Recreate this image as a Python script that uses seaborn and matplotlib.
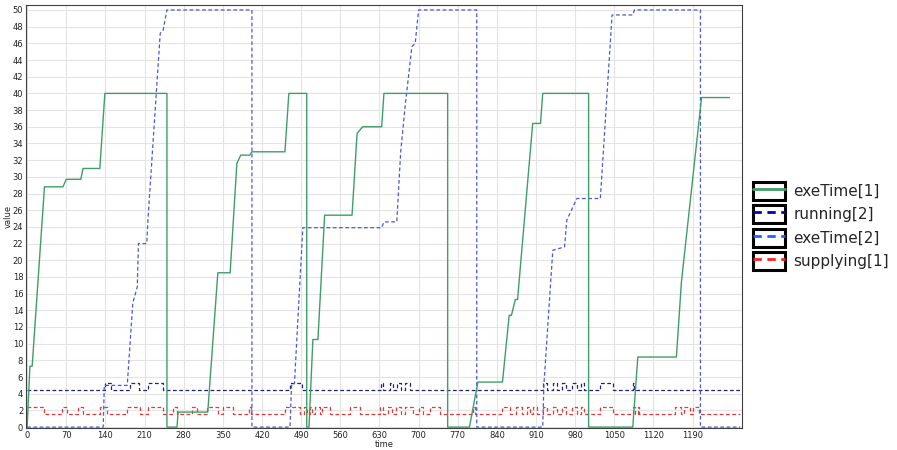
import matplotlib
matplotlib.use("Agg")
import matplotlib.pyplot as plt
from matplotlib.lines import Line2D
from matplotlib.patches import Patch
from matplotlib.legend_handler import HandlerTuple
import seaborn as sns

# exeTime[1] - green solid, piecewise linear
exe1_t = [0, 5, 9, 31, 64, 70, 96, 100, 130, 139, 250, 250, 268, 270, 323, 341, 363, 375, 382, 398,
          402, 461, 468, 500, 500, 504, 511, 520, 532, 581, 590, 600, 634, 638, 752, 752, 791, 806,
          850, 862, 866, 873, 877, 904, 918, 922, 1004, 1004, 1083, 1092, 1161, 1170, 1206, 1256]
exe1_v = [0, 7.3, 7.3, 28.8, 28.8, 29.7, 29.7, 31, 31, 40, 40, 0, 0, 1.8, 1.8, 18.5, 18.5, 31.6, 32.6, 32.6,
          33, 33, 40, 40, 0, 0, 10.5, 10.5, 25.4, 25.4, 35.2, 36, 36, 40, 40, 0, 0, 5.4,
          5.4, 13.4, 13.4, 15.3, 15.3, 36.4, 36.4, 40, 40, 0, 0, 8.4, 8.4, 17.4, 39.5, 39.5]

# exeTime[2] - blue dashed, piecewise linear
exe2_t = [0, 136, 138, 179, 189, 197, 199, 214, 216, 238, 243, 250, 402, 402, 470, 473, 478, 493,
          634, 638, 661, 668, 676, 688, 694, 700, 804, 804, 922, 924, 940, 961, 965, 983, 1025,
          1046, 1083, 1086, 1204, 1204, 1275]
exe2_v = [0, 0, 5, 5, 14.9, 16.8, 22, 22, 24.8, 47.2, 47.5, 50, 50, 0, 0, 5.2, 5.2, 23.9,
          23.9, 24.6, 24.6, 33, 38.5, 45.6, 46, 50, 50, 0, 0, 5, 21.2, 21.6, 24.8, 27.4, 27.4,
          49.4, 49.4, 50, 50, 0, 0]

# running[2] - step signal
run2_t = [0, 140, 150, 184, 200, 216, 243, 470, 492, 632, 636, 648, 655, 662, 668, 676, 684,
          922, 930, 940, 947, 957, 964, 975, 984, 990, 996, 1025, 1047, 1083, 1086, 1275]
run2_v = [4.4, 5.3, 4.4, 5.3, 4.4, 5.3, 4.4, 5.3, 4.4, 5.3, 4.4, 5.3, 4.4, 5.3, 4.4, 5.3, 4.4,
          5.3, 4.4, 5.3, 4.4, 5.3, 4.4, 5.3, 4.4, 5.3, 4.4, 5.3, 4.4, 5.3, 4.4, 4.4]

# supplying[1] - step signal
sup1_t = [0, 30, 62, 71, 91, 100, 130, 143, 179, 202, 216, 243, 261, 268, 295, 304, 321, 341,
          350, 368, 396, 400, 461, 488, 495, 500, 505, 510, 515, 523, 527, 541, 577, 595,
          631, 636, 645, 652, 660, 668, 675, 690, 700, 708, 720, 738, 797, 800, 850, 863,
          875, 885, 893, 900, 905, 911, 922, 930, 940, 947, 957, 964, 975, 984, 990, 996,
          1025, 1047, 1083, 1087, 1092, 1095, 1158, 1170, 1175, 1185, 1190, 1202, 1275]
sup1_v = [2.4, 1.55, 2.4, 1.55, 2.4, 1.55, 2.4, 1.55, 2.4, 1.55, 2.4, 1.55, 2.4, 1.55, 2.4, 1.55, 2.4, 1.55,
          2.4, 1.55, 2.4, 1.55, 2.4, 1.55, 2.4, 1.55, 2.4, 1.55, 2.4, 1.55, 2.4, 1.55, 2.4, 1.55,
          2.4, 1.55, 2.4, 1.55, 2.4, 1.55, 2.4, 1.55, 2.4, 1.55, 2.4, 1.55, 2.4, 1.55, 2.4, 1.55,
          2.4, 1.55, 2.4, 1.55, 2.4, 1.55, 2.4, 1.55, 2.4, 1.55, 2.4, 1.55, 2.4, 1.55, 2.4, 1.55,
          2.4, 1.55, 2.4, 1.55, 2.4, 1.55, 2.4, 1.55, 2.4, 1.55, 2.4, 1.55, 1.55]

labels = ["exeTime[1]", "running[2]", "exeTime[2]", "supplying[1]"]
x_ticks = list(range(0, 1191, 70))
y_ticks = list(range(0, 51, 2))

sns.set_style("whitegrid", {"grid.color": "#e4e4e4", "axes.edgecolor": "#404040"})
plt.rcParams["font.family"] = ["DejaVu Sans"]

green = "#3f9e68"
navy = "#22227a"
blue = "#4a5ad4"
red = "#e03a3a"

fig = plt.figure(figsize=(8.97, 4.5), dpi=100)
ax = fig.add_axes([0.029, 0.049, 0.798, 0.94])

sns.lineplot(x=sup1_t, y=sup1_v, ax=ax, estimator=None, sort=False, drawstyle="steps-post",
             color=red, lw=0.9, linestyle=(0, (3, 2)))
sns.lineplot(x=run2_t, y=run2_v, ax=ax, estimator=None, sort=False, drawstyle="steps-post",
             color=navy, lw=0.9, linestyle=(0, (3, 2)))
sns.lineplot(x=exe2_t, y=exe2_v, ax=ax, estimator=None, sort=False,
             color=blue, lw=0.9, linestyle=(0, (3, 2)))
sns.lineplot(x=exe1_t, y=exe1_v, ax=ax, estimator=None, sort=False, color=green, lw=1.0)

ax.set_xlim(-2, 1278)
ax.set_ylim(-0.1, 50.6)
ax.set_xticks(x_ticks)
ax.set_yticks(y_ticks)
ax.tick_params(labelsize=6, length=0, pad=2, colors="#222222")
ax.set_xlabel("time", fontsize=6, labelpad=0)
ax.set_ylabel("value", fontsize=6, labelpad=0)
for s in ax.spines.values():
    s.set_linewidth(0.8)

handles = []
for c, ls in [(green, "-"), ("#0000b0", (0, (3, 2))), ("#2060ff", (0, (3, 2))), ("#ff2020", (0, (3, 2)))]:
    box = Patch(facecolor="white", edgecolor="black", lw=2.2)
    ln = Line2D([], [], color=c, lw=2, linestyle=ls)
    handles.append((box, ln))
fig.legend(handles, labels, handler_map={tuple: HandlerTuple(ndivide=1)},
           loc="center left", bbox_to_anchor=(0.831, 0.498), frameon=False,
           fontsize=11, handlelength=2.1, handleheight=1.45, labelspacing=0.35,
           handletextpad=0.55, borderpad=0)

fig.savefig("out.png", dpi=100)
